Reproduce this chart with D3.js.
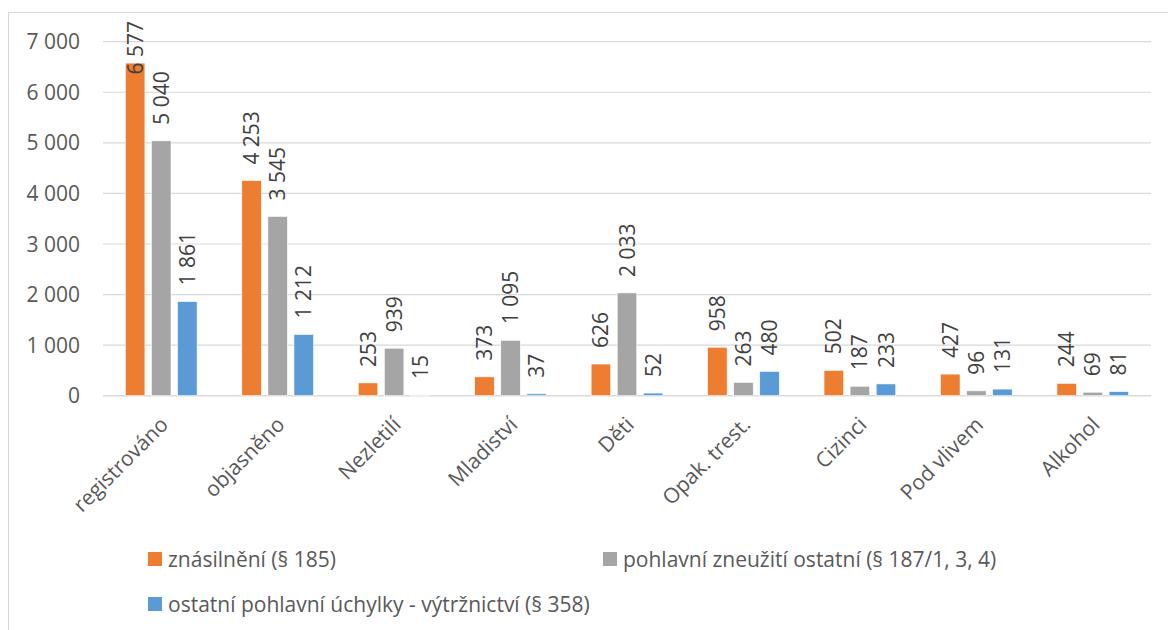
<!DOCTYPE html>
<html><head><meta charset="utf-8">
<script src="https://cdn.jsdelivr.net/npm/d3@7"></script>
<style>body{margin:0;background:#fff;} text{font-family:"Open Sans",sans-serif;}</style>
</head><body>
<svg id="c" width="1168" height="630"></svg>
<script>
const categories = ["registrováno","objasněno","Nezletilí","Mladiství","Děti","Opak. trest.","Cizinci","Pod vlivem","Alkohol"];
const seriesNames = ["znásilnění (§ 185)","pohlavní zneužití ostatní (§ 187/1, 3, 4)","ostatní pohlavní úchylky - výtržnictví (§ 358)"];
const rape = [6577,4253,253,373,626,958,502,427,244];
const abuse = [5040,3545,939,1095,2033,263,187,96,69];
const other = [1861,1212,15,37,52,480,233,131,81];
const yTicks = [0,1000,2000,3000,4000,5000,6000,7000];
const colors = ["#ED7D31","#A5A5A5","#5B9BD5"];

const series = [rape, abuse, other];
const svg = d3.select("#c");
const fs = 21;
const fmt = v => d3.format(",")(v).replace(/,/g, " ");

// chart border
svg.append("rect").attr("x",8.5).attr("y",12.5).attr("width",1200).attr("height",700)
  .attr("fill","none").attr("stroke","#d9d9d9").attr("stroke-width",1);

const L = 103, R = 1151, T = 41.7, B = 395.7;
const x = d3.scaleBand().domain(categories).range([L,R]).paddingInner(0).paddingOuter(0);
const y = d3.scaleLinear().domain([0,7000]).range([B,T]);
const bw = x.bandwidth()*0.168, gap = x.bandwidth()*0.056;
const xs = d3.scaleBand().domain([0,1,2]).range([0, 3*bw+2*gap]).paddingInner(gap/(bw+gap)).paddingOuter(0);

// grid
const gy = svg.append("g");
gy.selectAll("line").data(yTicks).join("line")
  .attr("x1",L).attr("x2",R).attr("y1",d=>y(d)).attr("y2",d=>y(d))
  .attr("stroke","#d9d9d9").attr("stroke-width",d=>d===0?1.5:1.2);
gy.selectAll("text").data(yTicks).join("text")
  .attr("x",80).attr("y",d=>y(d)).attr("dy","0.36em").attr("text-anchor","end")
  .attr("font-size",fs).attr("fill","#595959").text(fmt);

// bars
const groupW = 3*bw+2*gap;
series.forEach((vals,si)=>{
  const g = svg.append("g");
  g.selectAll("rect").data(vals).join("rect")
    .attr("x",(d,i)=>x(categories[i])+x.bandwidth()/2-groupW/2+xs(si))
    .attr("width",xs.bandwidth())
    .attr("y",d=>y(d)).attr("height",d=>B-y(d))
    .attr("fill",colors[si]).attr("stroke","#fff").attr("stroke-width",0.6);
  g.selectAll("text").data(vals).join("text")
    .attr("dy","0.36em").attr("text-anchor","start")
    .attr("font-size",fs).attr("fill","#404040").text(fmt)
    .attr("transform",function(d,i){
      const cx = x(categories[i])+x.bandwidth()/2-groupW/2+xs(si)+xs.bandwidth()/2;
      const len = this.getComputedTextLength();
      let base = y(d)-16;
      if (base - len < 21) base = 21 + len;
      return `translate(${cx},${base}) rotate(-90)`;
    });
});

// x labels
svg.append("g").selectAll("text").data(categories).join("text")
  .attr("transform",d=>`translate(${x(d)+x.bandwidth()/2+3},${B+25}) rotate(-45)`)
  .attr("text-anchor","end").attr("dy","0.35em")
  .attr("font-size",fs).attr("fill","#595959").text(d=>d);

// legend
const leg = [{x:148,y:552},{x:603,y:552},{x:148,y:597}];
seriesNames.forEach((n,i)=>{
  svg.append("rect").attr("x",leg[i].x).attr("y",leg[i].y).attr("width",14).attr("height",14).attr("fill",colors[i]);
  svg.append("text").attr("x",leg[i].x+20).attr("y",leg[i].y+7).attr("dy","0.36em")
    .attr("font-size",fs).attr("fill","#595959").text(n);
});
</script>
</body></html>
